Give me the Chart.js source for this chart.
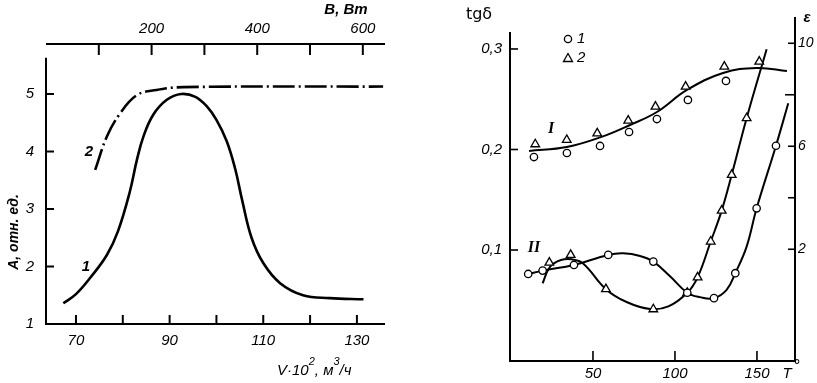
<!DOCTYPE html>
<html><head><meta charset="utf-8">
<script src="https://cdn.jsdelivr.net/npm/chart.js@4.4.1/dist/chart.umd.min.js"></script>
<style>
html,body{margin:0;padding:0;background:#fff;}
#wrap{position:relative;width:817px;height:383px;overflow:hidden;background:#fff;}
canvas{position:absolute;top:0;}
#c1{left:0;} #c2{left:420px;}
</style></head><body>
<div id="wrap"><canvas id="c1" width="400" height="383"></canvas><canvas id="c2" width="397" height="383"></canvas></div>
<script>
// ---------- Left panel data ----------
const V_CURVE1 = [67.3, 70.0, 73.0, 76.6, 79.0, 81.5, 83.0, 84.4, 86.5, 89.4, 92.5, 95.5, 98.0, 100.0, 102.2, 104.0, 105.5, 107.5, 110.0, 113.6, 118.5, 124.2, 131.4];
const A_CURVE1 = [1.36, 1.52, 1.80, 2.20, 2.62, 3.30, 3.85, 4.26, 4.64, 4.90, 5.00, 4.95, 4.78, 4.55, 4.18, 3.70, 3.15, 2.50, 2.06, 1.71, 1.50, 1.45, 1.43];
const V_CURVE2 = [74.1, 76.6, 79.4, 83.0, 87.2, 92.9, 135.6];
const A_CURVE2 = [3.68, 4.26, 4.66, 4.98, 5.07, 5.12, 5.13];
const V_TICKS = [70, 80, 90, 100, 110, 120, 130];
const V_LABELS = [70, 90, 110, 130];
const A_TICKS = [1, 2, 3, 4, 5];
const B_TICKS = [100, 200, 300, 400, 500, 600];
const B_LABELS = [200, 400, 600];

// ---------- Right panel data ----------
const T_I_LINE  = [11.0, 34.1, 54.3, 72.6, 89.0, 107.3, 129.3, 150.0, 168.3];
const TG_I_LINE = [0.1985, 0.2025, 0.212, 0.2244, 0.2373, 0.2592, 0.2761, 0.2811, 0.2781];
const T_I_CIRC  = [14.0, 34.1, 54.3, 72.0, 89.0, 107.9, 131.1];
const TG_I_CIRC = [0.1925, 0.1965, 0.2035, 0.2174, 0.2303, 0.2493, 0.2682];
const T_I_TRI   = [14.8, 34.0, 52.6, 71.5, 88.1, 106.5, 130.1, 151.4];
const TG_I_TRI  = [0.2052, 0.2095, 0.2161, 0.2287, 0.2426, 0.2625, 0.2824, 0.2874];

const T_II_CLINE   = [10.5, 19.3, 38.4, 59.3, 68.5, 78.7, 86.8, 97.0, 107.5, 115.2, 123.8, 131.5, 136.8, 143.7, 149.8, 161.6, 169.1];
const EPS_II_CLINE = [1.04, 1.17, 1.39, 1.78, 1.84, 1.74, 1.52, 0.95, 0.31, 0.14, 0.10, 0.42, 1.07, 2.10, 3.59, 6.02, 7.67];
const T_II_TLINE   = [19.3, 23.8, 30.5, 37.0, 44.0, 57.9, 70.5, 84.8, 96.0, 107.5, 113.8, 121.8, 128.5, 134.6, 143.7, 155.9];
const EPS_II_TLINE = [0.68, 1.32, 1.58, 1.61, 1.45, 0.45, -0.05, -0.32, -0.22, 0.31, 0.91, 2.30, 3.50, 4.89, 7.09, 9.77];
const T_II_CIRC    = [10.5, 19.3, 38.4, 59.3, 86.8, 107.5, 123.8, 136.8, 149.8, 161.6];
const EPS_II_CIRC  = [1.04, 1.17, 1.39, 1.78, 1.52, 0.31, 0.10, 1.07, 3.59, 6.02];
const T_II_TRI     = [23.4, 36.4, 57.9, 86.8, 107.5, 113.8, 121.8, 128.5, 134.6, 143.7];
const EPS_II_TRI   = [1.48, 1.78, 0.45, -0.33, 0.31, 0.91, 2.30, 3.50, 4.89, 7.09];

const T_TICKS = [50, 100, 150];
const TG_TICKS = [0.1, 0.2, 0.3];
const TG_LABELS = ['0,1', '0,2', '0,3'];
const EPS_TICKS = [2, 4, 6, 8, 10];
const EPS_LABELS = [2, 6, 10];

// ---------- helpers ----------
const pts = (xs, ys) => xs.map((x, i) => ({x, y: ys[i]}));
const FONT = '"Liberation Sans", "DejaVu Sans", sans-serif';
const tickFont = {family: FONT, size: 15, style: 'italic'};
function seg(ctx, x1, y1, x2, y2) { ctx.beginPath(); ctx.moveTo(x1, y1); ctx.lineTo(x2, y2); ctx.stroke(); }
function txt(ctx, s, x, y, font, align) {
  ctx.font = font; ctx.textAlign = align || 'center'; ctx.textBaseline = 'middle'; ctx.fillStyle = '#000'; ctx.fillText(s, x, y);
}
function fixedTicks(arr) { return s => { s.ticks = arr.map(v => ({value: v})); }; }
Chart.defaults.color = '#000';

// ---------- Left chart ----------
const leftFrame = {
  id: 'leftFrame',
  afterDraw(chart) {
    const {ctx, chartArea: ca, scales: {x, x2, y}} = chart;
    ctx.save(); ctx.strokeStyle = '#000'; ctx.lineWidth = 2; ctx.lineCap = 'butt';
    seg(ctx, ca.left, ca.bottom, ca.right, ca.bottom);
    seg(ctx, ca.left, y.getPixelForValue(5.63), ca.left, ca.bottom + 1);
    seg(ctx, ca.left, ca.top, ca.right, ca.top);
    V_TICKS.forEach(v => { const p = x.getPixelForValue(v); seg(ctx, p, ca.bottom, p, ca.bottom - 9); });
    B_TICKS.forEach(v => { const p = x2.getPixelForValue(v); seg(ctx, p, ca.top, p, ca.top + 11); });
    A_TICKS.forEach(v => { const p = y.getPixelForValue(v); seg(ctx, ca.left, p, ca.left + 8, p); });
    // texts
    txt(ctx, 'В, Вт', 346, 10, 'italic bold 15px ' + FONT);
    ctx.save(); ctx.translate(14, 232); ctx.rotate(-Math.PI / 2);
    txt(ctx, 'А, отн. ед.', 0, 0, 'italic bold 14px ' + FONT); ctx.restore();
    // x label  V·10², м³/ч
    let xx = 277; const by = 371;
    const big = 'italic 15px ' + FONT, sm = 'italic 11px ' + FONT;
    const put = (s, f, dy) => { ctx.font = f; ctx.textAlign = 'left'; ctx.textBaseline = 'middle'; ctx.fillText(s, xx, by + dy); xx += ctx.measureText(s).width; };
    put('V·10', big, 0); put('2', sm, -9); put(', м', big, 0); put('3', sm, -9); put('/ч', big, 0);
    txt(ctx, '1', 86, 267, 'italic bold 15px ' + FONT);
    txt(ctx, '2', 89, 152, 'italic bold 15px ' + FONT);
    ctx.restore();
  }
};

new Chart(document.getElementById('c1'), {
  type: 'scatter',
  data: {
    datasets: [
      {data: pts(V_CURVE1, A_CURVE1), showLine: true, borderColor: '#000', borderWidth: 2.6, pointRadius: 0, tension: 0.4, xAxisID: 'x', yAxisID: 'y'},
      {data: pts(V_CURVE2, A_CURVE2), showLine: true, borderColor: '#000', borderWidth: 2.6, borderDash: [22, 4, 2, 4], pointRadius: 0, tension: 0.4, xAxisID: 'x', yAxisID: 'y'}
    ]
  },
  options: {
    responsive: false, animation: false, devicePixelRatio: 1,
    layout: {padding: {left: 0, right: 15, top: 0, bottom: 0}},
    plugins: {legend: {display: false}, tooltip: {enabled: false}},
    scales: {
      x: {type: 'linear', position: 'bottom', min: 63.6, max: 136,
          afterBuildTicks: fixedTicks(V_TICKS), afterFit: s => { s.height = 59; },
          grid: {display: false, drawTicks: false}, border: {display: false},
          ticks: {padding: 8, font: tickFont, autoSkip: false, maxRotation: 0, callback: v => V_LABELS.includes(v) ? String(v) : ''}},
      x2: {type: 'linear', position: 'top', min: 0, max: 642,
          afterBuildTicks: fixedTicks(B_TICKS), afterFit: s => { s.height = 44; },
          grid: {display: false, drawTicks: false}, border: {display: false},
          ticks: {padding: 6, font: tickFont, autoSkip: false, maxRotation: 0, callback: v => B_LABELS.includes(v) ? String(v) : ''}},
      y: {type: 'linear', position: 'left', min: 1, max: 5.87,
          afterBuildTicks: fixedTicks(A_TICKS), afterFit: s => { s.width = 46; },
          grid: {display: false, drawTicks: false}, border: {display: false},
          ticks: {padding: 12, font: tickFont, autoSkip: false, callback: v => String(v)}}
    }
  },
  plugins: [leftFrame]
});

// ---------- Right chart ----------
const rightFrame = {
  id: 'rightFrame',
  afterDraw(chart) {
    const {ctx, chartArea: ca, scales: {x, y, y2}} = chart;
    ctx.save(); ctx.strokeStyle = '#000'; ctx.lineWidth = 2;
    seg(ctx, ca.left - 1, ca.bottom, ca.right + 1, ca.bottom);
    seg(ctx, ca.left, y.getPixelForValue(0.317), ca.left, ca.bottom);
    seg(ctx, ca.right, ca.top, ca.right, ca.bottom);
    ctx.lineWidth = 1.6;
    T_TICKS.forEach(v => { const p = x.getPixelForValue(v); seg(ctx, p, ca.bottom, p, ca.bottom - 10); });
    TG_TICKS.forEach(v => { const p = y.getPixelForValue(v); seg(ctx, ca.left, p, ca.left + 8, p); });
    EPS_TICKS.forEach(v => { const p = y2.getPixelForValue(v); seg(ctx, ca.right, p, ca.right - (v === 8 ? 10 : 7), p); });
    // titles
    txt(ctx, 'tgδ', 59, 15, '16px "DejaVu Sans", sans-serif');
    txt(ctx, 'ε', 387, 18, 'italic bold 15px ' + FONT);
    txt(ctx, 'T', 367, 374, 'italic 15px ' + FONT);
    txt(ctx, '°', 377, 367, '15px "DejaVu Sans", sans-serif');
    // legend
    ctx.lineWidth = 1.3; ctx.fillStyle = '#fff';
    ctx.beginPath(); ctx.arc(148, 39, 3.6, 0, Math.PI * 2); ctx.fill(); ctx.stroke();
    ctx.beginPath(); ctx.moveTo(148, 53.5); ctx.lineTo(152.5, 61.5); ctx.lineTo(143.5, 61.5); ctx.closePath(); ctx.fill(); ctx.stroke();
    txt(ctx, '1', 157, 39, 'italic 15px ' + FONT, 'left');
    txt(ctx, '2', 157, 58, 'italic 15px ' + FONT, 'left');
    txt(ctx, 'I', 131, 129, 'italic bold 16px "Liberation Serif", serif');
    txt(ctx, 'II', 114, 248, 'italic bold 16px "Liberation Serif", serif');
    ctx.restore();
  }
};
const mk = {showLine: false, pointBackgroundColor: '#fff', pointBorderColor: '#000', pointBorderWidth: 1.3};
const ln = {showLine: true, borderColor: '#000', borderWidth: 2, pointRadius: 0, tension: 0.4};
new Chart(document.getElementById('c2'), {
  type: 'scatter',
  data: {
    datasets: [
      Object.assign({data: pts(T_I_CIRC, TG_I_CIRC), yAxisID: 'y', pointStyle: 'circle', pointRadius: 3.7}, mk),
      Object.assign({data: pts(T_I_TRI, TG_I_TRI), yAxisID: 'y', pointStyle: 'triangle', pointRadius: 5}, mk),
      Object.assign({data: pts(T_II_CIRC, EPS_II_CIRC), yAxisID: 'y2', pointStyle: 'circle', pointRadius: 3.7}, mk),
      Object.assign({data: pts(T_II_TRI, EPS_II_TRI), yAxisID: 'y2', pointStyle: 'triangle', pointRadius: 5}, mk),
      Object.assign({data: pts(T_I_LINE, TG_I_LINE), yAxisID: 'y'}, ln),
      Object.assign({data: pts(T_II_CLINE, EPS_II_CLINE), yAxisID: 'y2'}, ln),
      Object.assign({data: pts(T_II_TLINE, EPS_II_TLINE), yAxisID: 'y2'}, ln)
    ]
  },
  options: {
    responsive: false, animation: false, devicePixelRatio: 1,
    layout: {padding: {left: 0, right: 0, top: 17, bottom: 0}},
    plugins: {legend: {display: false}, tooltip: {enabled: false}},
    scales: {
      x: {type: 'linear', position: 'bottom', min: -0.6, max: 173.2,
          afterBuildTicks: fixedTicks(T_TICKS), afterFit: s => { s.height = 22; },
          grid: {display: false, drawTicks: false}, border: {display: false},
          ticks: {padding: 4, font: tickFont, autoSkip: false, maxRotation: 0, callback: v => String(v)}},
      y: {type: 'linear', position: 'left', min: -0.0104, max: 0.3318,
          afterBuildTicks: fixedTicks(TG_TICKS), afterFit: s => { s.width = 90; },
          grid: {display: false, drawTicks: false}, border: {display: false},
          ticks: {padding: 8, font: tickFont, autoSkip: false, callback: v => { const i = TG_TICKS.indexOf(v); return i >= 0 ? TG_LABELS[i] : ''; }}},
      y2: {type: 'linear', position: 'right', min: -2.34, max: 11.02,
          afterBuildTicks: fixedTicks(EPS_TICKS), afterFit: s => { s.width = 22; },
          grid: {display: false, drawTicks: false}, border: {display: false},
          ticks: {padding: 3, font: {family: FONT, size: 14, style: 'italic'}, autoSkip: false, callback: v => EPS_LABELS.includes(v) ? String(v) : ''}}
    }
  },
  plugins: [rightFrame]
});
</script>
</body></html>
